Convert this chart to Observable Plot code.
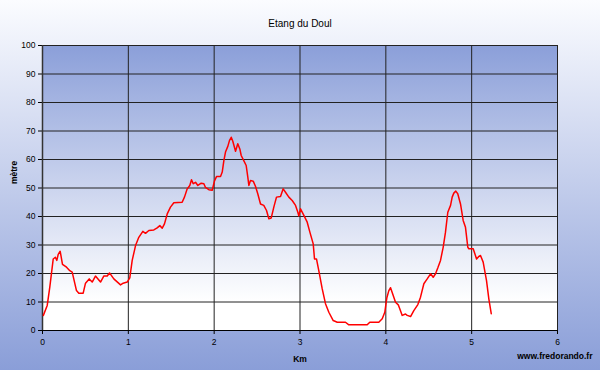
<!DOCTYPE html>
<html>
<head>
<meta charset="utf-8">
<script src="https://cdn.jsdelivr.net/npm/d3@7"></script>
<script src="https://cdn.jsdelivr.net/npm/@observablehq/plot@0.6"></script>
<style>
  html, body { margin: 0; padding: 0; background: #fff; }
  #chart { width: 600px; height: 370px; }
</style>
</head>
<body>
<svg width="0" height="0" style="position:absolute">
  <defs>
    <linearGradient id="plotGrad" x1="0" y1="0" x2="0" y2="1">
      <stop offset="0%" stop-color="#8b9fd9"/>
      <stop offset="90%" stop-color="#ffffff"/>
      <stop offset="100%" stop-color="#ffffff"/>
    </linearGradient>
  </defs>
</svg>
<div id="chart"></div>
<script>
const title = "Etang du Doul";
const xLabel = "Km";
const yLabel = "mètre";
const credit = "www.fredorando.fr";
const xTicks = [0, 1, 2, 3, 4, 5, 6];
const yTicks = [0, 10, 20, 30, 40, 50, 60, 70, 80, 90, 100];

const km = [0.01, 0.055, 0.085, 0.125, 0.15, 0.167, 0.183, 0.206, 0.233, 0.28, 0.318, 0.346, 0.396, 0.423, 0.474, 0.501, 0.544, 0.579, 0.617, 0.676, 0.714, 0.754, 0.781, 0.831, 0.909, 0.94, 0.987, 1.017, 1.045, 1.084, 1.122, 1.169, 1.2, 1.239, 1.297, 1.336, 1.367, 1.395, 1.421, 1.453, 1.491, 1.53, 1.627, 1.654, 1.686, 1.716, 1.736, 1.756, 1.783, 1.81, 1.849, 1.88, 1.899, 1.938, 1.977, 2.004, 2.027, 2.074, 2.094, 2.113, 2.132, 2.159, 2.179, 2.199, 2.217, 2.249, 2.275, 2.299, 2.315, 2.345, 2.373, 2.392, 2.404, 2.423, 2.455, 2.482, 2.508, 2.54, 2.578, 2.61, 2.637, 2.665, 2.695, 2.726, 2.773, 2.804, 2.831, 2.87, 2.909, 2.948, 2.975, 2.986, 3.006, 3.045, 3.084, 3.115, 3.154, 3.169, 3.192, 3.219, 3.259, 3.297, 3.336, 3.387, 3.434, 3.53, 3.569, 3.783, 3.813, 3.918, 3.958, 3.988, 4.012, 4.035, 4.055, 4.086, 4.113, 4.145, 4.191, 4.229, 4.249, 4.288, 4.326, 4.373, 4.404, 4.443, 4.482, 4.521, 4.552, 4.579, 4.606, 4.637, 4.668, 4.695, 4.722, 4.754, 4.773, 4.792, 4.815, 4.838, 4.87, 4.901, 4.928, 4.955, 4.967, 5.018, 5.057, 5.083, 5.103, 5.134, 5.173, 5.2, 5.228];
const elevation = [5.3, 8.8, 15.2, 25.1, 25.7, 24.6, 26.7, 27.8, 23.2, 22.2, 21.0, 20.5, 14.0, 13.1, 13.1, 16.6, 18.1, 17.0, 19.1, 17.0, 19.1, 19.1, 20.2, 18.1, 16.0, 16.6, 17.0, 18.5, 24.6, 29.8, 32.7, 34.8, 34.1, 35.1, 35.3, 36.0, 36.8, 35.9, 37.4, 40.9, 43.3, 44.8, 45.0, 46.8, 49.7, 50.9, 52.9, 51.5, 52.0, 50.9, 51.7, 51.5, 50.2, 49.4, 49.2, 52.5, 54.0, 54.0, 55.6, 59.6, 62.6, 64.6, 66.7, 67.8, 66.4, 62.9, 65.5, 63.7, 61.4, 59.6, 57.9, 53.8, 50.9, 52.6, 52.4, 50.5, 48.0, 44.4, 43.9, 42.1, 39.2, 39.5, 43.3, 46.8, 47.0, 49.7, 48.5, 46.8, 45.6, 43.9, 41.5, 40.2, 42.7, 40.4, 38.0, 34.5, 30.4, 25.1, 25.1, 21.0, 14.6, 9.4, 6.4, 3.5, 2.9, 2.9, 2.0, 2.0, 2.9, 2.9, 4.1, 6.4, 11.5, 14.0, 15.0, 12.3, 9.9, 9.0, 5.3, 5.8, 5.3, 4.9, 7.0, 9.1, 11.7, 16.4, 18.1, 19.9, 18.7, 19.9, 22.0, 24.6, 29.2, 34.5, 41.5, 43.9, 46.8, 48.2, 48.9, 48.0, 44.4, 38.6, 36.2, 29.2, 28.7, 28.7, 25.1, 26.0, 26.3, 24.0, 17.5, 11.1, 5.9];

const profile = km.map((k, i) => ({km: k, m: elevation[i]}));

const chart = Plot.plot({
  width: 600,
  height: 370,
  marginLeft: 42,
  marginRight: 43,
  marginTop: 45,
  marginBottom: 40,
  style: {
    fontFamily: "Arial, 'Liberation Sans', sans-serif",
    fontSize: "8.5px",
    color: "#000",
    background: "linear-gradient(to bottom, #fbfcff 0%, #8a9ed8 100%)",
    overflow: "visible"
  },
  x: {domain: [0, 6]},
  y: {domain: [0, 100]},
  marks: [
    Plot.frame({fill: "url(#plotGrad)", stroke: "#8a8a8a"}),
    Plot.gridY(yTicks, {stroke: "#222", strokeOpacity: 1, strokeWidth: 1}),
    Plot.gridX(xTicks, {stroke: "#222", strokeOpacity: 1, strokeWidth: 1}),
    Plot.axisY(yTicks, {tickSize: 4, tickPadding: 3, fontSize: 8.5, label: null, stroke: "#000"}),
    Plot.axisX(xTicks, {tickSize: 4, tickPadding: 4, fontSize: 8.5, label: null, stroke: "#000"}),
    Plot.ruleX([0], {stroke: "#333", strokeWidth: 1.5}),
    Plot.ruleY([0], {stroke: "#000", strokeWidth: 1}),
    Plot.line(profile, {x: "km", y: "m", stroke: "#ff0000", strokeWidth: 1.5, curve: "linear"}),
    Plot.text([title], {text: d => d, frameAnchor: "top", dy: -26, fontSize: 10, fill: "#000"}),
    Plot.text([xLabel], {text: d => d, frameAnchor: "bottom", dy: 31, fontSize: 8.5, fontWeight: "bold", fill: "#000"}),
    Plot.text([credit], {text: d => d, frameAnchor: "bottom-right", dx: 35, dy: 28, textAnchor: "end", fontSize: 8.5, fontWeight: "bold", fill: "#000"}),
    Plot.text([yLabel], {text: d => d, frameAnchor: "left", dx: -28, dy: -4, rotate: -90, fontSize: 8.5, fontWeight: "bold", fill: "#000"})
  ]
});
document.getElementById("chart").appendChild(chart);
</script>
</body>
</html>
